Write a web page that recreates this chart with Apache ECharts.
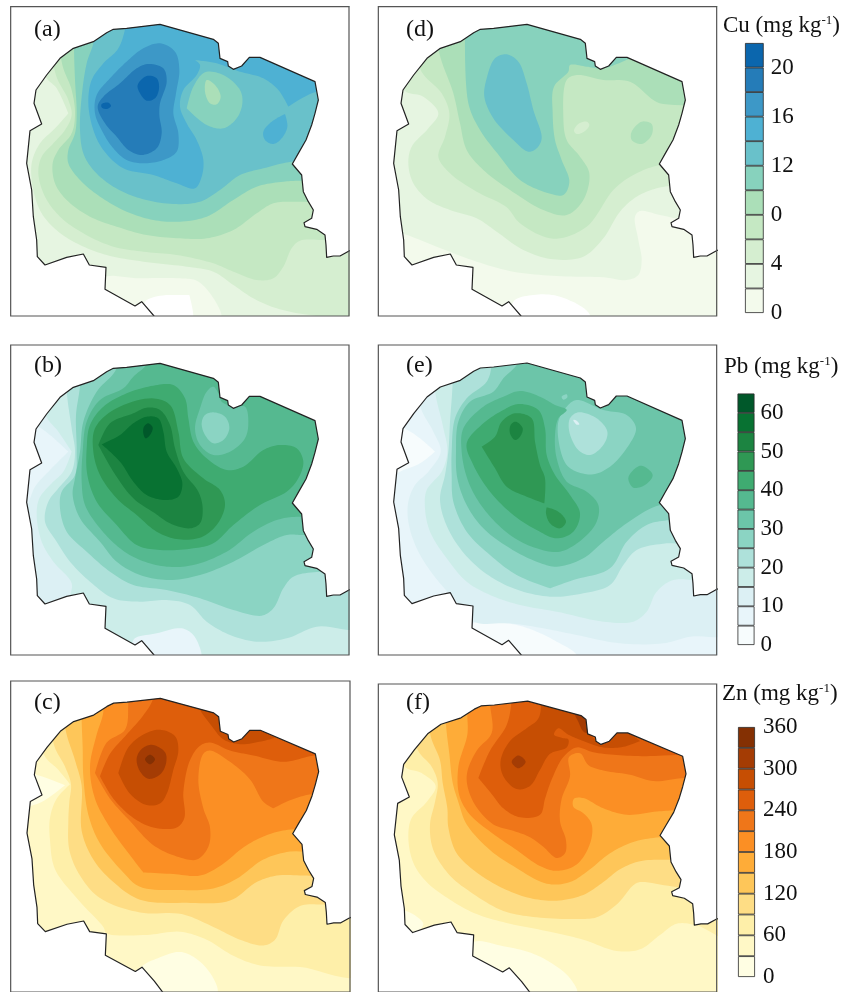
<!DOCTYPE html>
<html><head><meta charset="utf-8">
<script src="https://cdn.jsdelivr.net/npm/echarts@6/dist/echarts.min.js"></script>
<style>html,body{margin:0;padding:0;background:#fff}#c{width:857px;height:992px}</style>
</head><body><div id="c"></div>
<script>
// Colour classes (lowest to highest)
const cuColors=['#f3faec','#e6f5e1','#d5eed0','#c5e8c3','#abdfb8','#87d2bd','#69c1ca','#4eb1d3','#3d98c7','#257cb8','#0b66ad'];
const pbColors=['#f7fcfd','#e8f5fa','#dcf0f4','#ccede9','#aee1da','#8bd4c3','#6cc5a9','#55b990','#3fab71','#2f9854','#1c8441','#087232','#00582a'];
const znColors=['#fffee3','#fff8c6','#feefa9','#fedd85','#fec659','#feac38','#fb8f24','#ef7619','#de5e0b','#c64e03','#a43c04','#843003'];
// Colour bars
const cuTicks=[0,4,8,12,16,20], cuTickLabels=['0','4','0','12','16','20'], cuStep=2;
const pbTicks=[0,10,20,30,40,50,60], pbTickLabels=['0','10','20','30','40','50','60'], pbStep=5;
const znTicks=[0,60,120,180,240,300,360], znTickLabels=['0','60','120','180','240','300','360'], znStep=30;
// Study-area boundary in map units
const outline=[[1060,748],[1047,753],[1020,768],[1000,768],[980,772],[978,735],[975,705],[950,688],[915,680],[912,668],[935,655],[940,630],[925,605],[910,575],[905,525],[877,492],[895,460],[918,420],[935,375],[945,340],[955,300],[945,245],[780,172],[748,172],[725,198],[700,208],[685,198],[683,185],[660,175],[655,130],[640,118],[480,73],[380,85],[340,88],[320,98],[280,125],[220,145],[180,175],[140,225],[108,270],[102,310],[125,372],[90,392],[80,490],[95,570],[100,650],[110,720],[112,770],[135,795],[200,772],[250,762],[268,795],[318,802],[315,868],[405,918],[425,905],[462,948],[500,1000]];
// Filled contours: [class, ring]; painted in order. A repeated point is a sharp corner.
const panelA=[
[1,[[-100,-100],[-100,-100],[1200,-100],[1200,-100],[1200,1200],[1200,1200],[-100,1200],[-100,1200]]],
[0,[[300,838],[420,835],[540,835],[590,842],[630,880],[665,950],[650,1000],[300,1000]]],
[-1,[[435,905],[500,885],[500,885],[568,885],[568,885],[580,950],[570,1000],[450,1000]]],
[2,[[135,225],[170,265],[205,340],[205,340],[165,385],[120,430],[95,490],[100,570],[125,640],[175,695],[240,735],[320,765],[430,785],[560,800],[640,815],[700,855],[760,895],[830,925],[930,945],[1100,950],[1100,-20],[135,-20]]],
[3,[[165,215],[205,300],[215,345],[195,390],[160,430],[125,470],[115,520],[135,590],[180,650],[250,700],[340,740],[430,755],[530,765],[640,790],[700,815],[770,840],[820,835],[850,800],[875,745],[900,722],[975,720],[1100,720],[1100,-20],[165,-20]]],
[4,[[185,185],[215,270],[225,340],[215,400],[175,450],[158,490],[165,550],[200,600],[270,650],[350,680],[440,705],[540,715],[620,715],[700,690],[770,640],[820,610],[900,605],[1100,600],[1100,-20],[185,-20]]],
[5,[[222,145],[225,240],[230,340],[225,400],[205,450],[205,490],[240,540],[300,590],[380,635],[460,660],[540,665],[620,650],[700,600],[770,560],[850,545],[905,542],[1100,540],[1100,-20],[222,-20]]],
[6,[[282,120],[260,190],[245,290],[240,390],[250,460],[280,510],[340,560],[420,595],[520,612],[600,605],[660,570],[720,525],[790,505],[875,485],[1100,470],[1100,-20],[282,-20]]],
[7,[[380,60],[355,145],[310,190],[275,240],[265,310],[280,390],[310,450],[370,505],[460,525],[530,550],[585,565],[605,530],[610,480],[590,420],[560,370],[540,320],[550,270],[590,225],[600,195],[585,180],[585,180],[650,190],[720,215],[790,235],[835,270],[865,320],[865,320],[950,275],[1100,270],[1100,-20],[380,-20]]],
[7,[[855,342],[855,342],[862,380],[845,415],[820,432],[795,420],[790,395],[815,365]]],
[5,[[615,217],[670,225],[720,270],[727,310],[710,355],[670,385],[620,375],[560,325],[560,325],[580,260]]],
[4,[[620,240],[645,255],[662,290],[650,313],[630,310],[615,275]]],
[8,[[480,130],[525,155],[538,210],[528,280],[520,340],[535,400],[530,455],[490,480],[430,490],[380,480],[340,445],[310,400],[285,340],[290,285],[330,235],[385,180],[430,145]]],
[9,[[445,192],[490,205],[500,245],[480,310],[478,345],[485,400],[470,445],[425,465],[385,450],[350,410],[315,370],[293,320],[310,290],[360,250],[410,205]]],
[10,[[440,228],[470,235],[477,265],[465,295],[440,302],[420,280],[413,255]]],
[10,[[305,312],[325,308],[333,318],[320,327],[305,322]]]
];
const panelD=[
[0,[[-100,-100],[-100,-100],[1200,-100],[1200,-100],[1200,1200],[1200,1200],[-100,1200],[-100,1200]]],
[-1,[[430,905],[490,885],[570,890],[660,945],[650,1000],[430,1000]]],
[1,[[95,700],[200,740],[320,785],[430,815],[560,828],[700,832],[770,840],[805,825],[815,780],[805,720],[795,650],[810,633],[870,645],[950,660],[1100,660],[1100,-20],[40,-20],[40,690]]],
[2,[[100,268],[160,290],[205,340],[175,385],[125,440],[115,490],[130,550],[175,600],[240,630],[320,655],[380,695],[460,750],[550,778],[640,770],[700,715],[750,635],[800,590],[860,565],[930,555],[1100,550],[1100,-20],[100,-20]]],
[3,[[150,205],[215,280],[238,340],[225,410],[205,470],[240,520],[320,575],[410,622],[450,670],[550,716],[650,680],[730,570],[790,525],[870,495],[1100,480],[1100,-20],[150,-20]]],
[2,[[612,392],[625,372],[650,365],[658,375],[645,393],[620,402]]],
[4,[[205,145],[250,280],[270,370],[290,450],[340,510],[420,570],[520,630],[590,645],[640,600],[658,520],[630,470],[590,420],[580,350],[590,240],[620,225],[700,240],[780,245],[850,300],[880,312],[1100,280],[1100,-20],[205,-20]]],
[4,[[815,365],[845,372],[845,405],[815,432],[785,420],[785,395]]],
[5,[[285,100],[285,100],[295,310],[330,390],[390,470],[450,540],[530,578],[580,585],[598,545],[575,480],[555,420],[548,340],[552,260],[595,215],[600,195],[650,200],[700,205],[780,175],[780,175],[780,100],[500,40]]],
[6,[[410,163],[445,185],[470,250],[490,330],[515,415],[500,445],[475,455],[430,420],[370,355],[343,290],[350,235],[375,175]]]
];
const panelB=[
[2,[[-100,-100],[-100,-100],[1200,-100],[1200,-100],[1200,1200],[1200,1200],[-100,1200],[-100,1200]]],
[3,[[135,235],[175,290],[215,350],[215,350],[190,410],[150,450],[118,490],[110,540],[125,620],[160,680],[215,745],[210,800],[260,850],[400,970],[1100,1000],[1100,-20],[135,-20]]],
[1,[[105,270],[150,300],[205,350],[205,350],[150,405],[105,455],[80,510],[60,400],[80,270]]],
[1,[[400,915],[470,895],[545,880],[580,900],[605,960],[600,1000],[420,1000]]],
[4,[[200,165],[215,280],[225,350],[215,410],[175,460],[145,500],[135,560],[170,620],[210,680],[270,740],[340,790],[420,800],[500,795],[570,810],[620,860],[690,900],[770,920],[860,910],[950,875],[1100,870],[1100,-20],[200,-20]]],
[5,[[240,150],[228,240],[230,350],[225,420],[185,470],[180,520],[200,590],[260,650],[330,710],[400,750],[500,765],[600,790],[700,825],[785,842],[820,820],[850,760],[880,725],[960,710],[1100,710],[1100,-20],[240,-20]]],
[6,[[350,100],[290,170],[250,260],[240,350],[225,430],[218,480],[240,550],[300,620],[350,680],[420,720],[510,735],[600,720],[700,680],[790,630],[860,600],[910,600],[1100,600],[1100,-20],[360,-20]]],
[7,[[445,80],[400,125],[370,160],[300,195],[260,260],[248,350],[245,440],[255,510],[300,580],[360,640],[420,675],[500,695],[580,690],[680,650],[760,590],[830,555],[890,545],[1100,540],[1100,-20],[445,-20]]],
[6,[[640,155],[655,175],[665,200],[700,215],[735,215],[745,260],[735,310],[690,350],[640,360],[600,330],[585,280],[600,220],[620,170]]],
[5,[[640,232],[675,245],[688,280],[670,315],[640,325],[615,300],[605,265],[615,240]]],
[8,[[460,152],[520,150],[555,190],[565,250],[580,320],[620,370],[680,405],[730,395],[790,345],[840,330],[890,340],[910,380],[895,430],[860,470],[780,510],[700,570],[640,625],[580,640],[480,645],[410,630],[350,570],[290,500],[262,420],[260,340],[270,270],[310,215],[380,175]]],
[9,[[455,190],[510,210],[535,290],[550,370],[610,430],[660,465],[675,510],[650,570],[600,608],[530,612],[470,590],[410,540],[350,490],[300,420],[280,350],[285,280],[340,225]]],
[10,[[440,218],[480,225],[510,270],[525,340],[550,410],[595,470],[608,520],[600,565],[570,580],[510,565],[465,535],[400,490],[340,410],[295,330],[295,330],[330,265],[400,235]]],
[11,[[440,245],[475,250],[490,290],[500,350],[530,400],[547,445],[535,485],[495,495],[440,480],[400,440],[360,380],[305,328],[305,328],[360,300],[400,265]]],
[12,[[445,265],[458,278],[450,300],[437,310],[430,295],[432,275]]]
];
const panelE=[
[1,[[-100,-100],[-100,-100],[1200,-100],[1200,-100],[1200,1200],[1200,1200],[-100,1200],[-100,1200]]],
[0,[[100,280],[150,310],[195,350],[195,350],[150,385],[100,405],[60,420],[60,280]]],
[0,[[310,865],[380,862],[440,870],[500,890],[560,920],[620,960],[620,1000],[300,1000]]],
[2,[[150,210],[190,290],[212,350],[175,410],[135,450],[115,500],[115,560],[140,640],[190,720],[250,790],[310,860],[420,865],[520,880],[620,900],[750,925],[880,925],[960,905],[1100,885],[1100,-20],[150,-20]]],
[3,[[195,165],[218,270],[232,350],[215,410],[170,465],[165,520],[180,590],[230,670],[290,740],[360,780],[450,810],[560,830],[700,860],[790,860],[830,830],[860,770],[910,735],[1100,725],[1100,-20],[195,-20]]],
[4,[[248,140],[240,260],[235,350],[225,420],[210,490],[225,560],[270,640],[340,710],[430,760],[540,785],[640,775],[720,750],[760,690],[800,645],[890,625],[1100,620],[1100,-20],[248,-20]]],
[5,[[365,90],[350,140],[290,190],[255,250],[245,350],[245,420],[250,500],[290,590],[360,660],[440,720],[540,760],[540,760],[610,735],[720,700],[770,620],[830,570],[900,555],[1100,550],[1100,-20],[365,-20]]],
[6,[[445,80],[400,130],[370,170],[300,200],[265,260],[258,350],[262,430],[290,510],[340,580],[420,640],[500,680],[560,695],[640,670],[700,620],[770,565],[870,510],[1100,500],[1100,-20],[445,-20]]],
[5,[[620,195],[700,225],[770,240],[798,280],[770,340],[720,395],[670,418],[620,410],[590,390],[570,340],[565,260],[590,215]]],
[4,[[625,232],[680,250],[712,290],[700,330],[660,360],[625,345],[598,290],[600,250]]],
[2,[[610,255],[618,256],[628,268],[620,269]]],
[7,[[815,392],[848,420],[825,450],[790,458],[775,430],[790,405]]],
[7,[[450,168],[510,185],[555,210],[590,225],[565,250],[555,300],[560,370],[590,440],[650,470],[685,510],[680,560],[640,610],[570,650],[500,640],[420,600],[340,520],[295,440],[275,350],[280,280],[340,215],[400,185]]],
[5,[[575,185],[590,178],[592,187],[580,194]]],
[8,[[445,207],[505,225],[525,280],[530,360],[555,420],[600,480],[630,535],[610,590],[560,610],[500,585],[430,540],[360,470],[310,390],[290,325],[340,265],[400,225]]],
[9,[[435,235],[485,250],[495,320],[510,390],[525,430],[523,505],[523,505],[470,485],[410,455],[375,400],[335,335],[335,335],[375,305],[395,260]]],
[9,[[530,517],[530,517],[565,530],[588,560],[570,580],[540,565],[528,535]]],
[10,[[437,260],[458,280],[450,305],[435,315],[420,295],[422,270]]]
];
const panelC=[
[1,[[-100,-100],[-100,-100],[1200,-100],[1200,-100],[1200,1200],[1200,1200],[-100,1200],[-100,1200]]],
[0,[[105,325],[195,358],[195,358],[115,415],[60,420],[60,325]]],
[0,[[420,930],[480,895],[540,878],[590,900],[640,960],[650,1010],[420,1010]]],
[2,[[130,258],[175,310],[210,355],[210,355],[170,400],[150,460],[150,530],[165,620],[230,710],[310,800],[320,820],[440,825],[540,815],[620,840],[700,890],[780,920],[900,925],[1100,945],[1100,-20],[130,-20]]],
[3,[[160,225],[195,300],[213,355],[208,410],[205,470],[208,560],[240,640],[300,710],[420,755],[545,760],[640,800],[720,840],[790,858],[825,840],[850,780],[900,735],[975,730],[1100,730],[1100,-20],[160,-20]]],
[4,[[195,175],[225,280],[245,360],[245,500],[280,590],[340,660],[420,715],[560,725],[690,718],[770,660],[830,640],[920,640],[1100,640],[1100,-20],[195,-20]]],
[5,[[245,155],[248,240],[250,330],[265,450],[300,540],[370,630],[420,675],[540,685],[640,680],[710,650],[790,590],[870,565],[1100,560],[1100,-20],[245,-20]]],
[6,[[310,130],[290,200],[270,300],[285,400],[330,490],[400,590],[430,630],[430,630],[520,635],[600,640],[660,610],[740,545],[810,510],[880,495],[1100,490],[1100,-20],[310,-20]]],
[7,[[385,100],[375,185],[320,225],[285,320],[285,320],[330,400],[390,470],[460,545],[530,580],[590,590],[625,550],[630,490],[610,430],[595,340],[610,260],[630,250],[690,285],[750,340],[790,410],[820,430],[820,430],[870,405],[940,385],[1100,380],[1100,-20],[385,-20]]],
[8,[[460,85],[430,140],[380,200],[330,260],[300,330],[300,330],[340,400],[400,460],[460,490],[530,490],[553,460],[550,380],[570,280],[600,235],[630,225],[690,250],[760,265],[850,285],[945,265],[1100,260],[1100,-20],[460,-20]]],
[9,[[480,185],[525,205],[535,250],[520,310],[500,385],[480,415],[440,420],[390,385],[355,320],[355,320],[385,240],[430,200]]],
[9,[[600,115],[640,180],[670,215],[720,230],[790,220],[825,210],[825,210],[780,180],[650,120]]],
[10,[[455,232],[495,255],[498,290],[480,325],[445,338],[420,315],[410,275],[425,245]]],
[11,[[450,263],[465,277],[450,293],[435,277]]]
];
const panelF=[
[1,[[-100,-100],[-100,-100],[1200,-100],[1200,-100],[1200,1200],[1200,1200],[-100,1200],[-100,1200]]],
[0,[[305,850],[400,860],[480,880],[540,910],[600,960],[620,1010],[300,1010]]],
[0,[[100,750],[160,790],[125,825],[90,800]]],
[2,[[100,295],[155,320],[197,360],[170,410],[125,460],[115,520],[130,600],[170,660],[240,715],[320,760],[420,790],[540,815],[640,840],[740,875],[810,870],[870,825],[920,790],[980,795],[1100,840],[1100,-20],[100,-20]]],
[3,[[140,240],[185,300],[203,350],[195,410],[180,480],[190,560],[240,640],[300,690],[400,750],[500,770],[620,775],[680,770],[740,730],[790,670],[810,660],[920,675],[1100,680],[1100,-20],[140,-20]]],
[4,[[180,195],[210,280],[218,350],[232,430],[235,490],[260,570],[320,630],[400,680],[480,710],[560,718],[640,700],[700,660],[750,620],[810,595],[900,590],[1100,590],[1100,-20],[180,-20]]],
[5,[[228,165],[238,260],[248,350],[265,410],[290,480],[360,560],[430,610],[530,665],[600,660],[660,620],[720,570],[790,535],[868,520],[1100,510],[1100,-20],[228,-20]]],
[6,[[292,135],[292,200],[265,300],[268,390],[300,450],[370,510],[440,560],[510,610],[560,625],[620,605],[660,540],[665,480],[640,445],[610,425],[612,400],[640,398],[700,430],[770,450],[860,440],[930,435],[1100,430],[1100,-20],[292,-20]]],
[7,[[360,100],[365,195],[320,250],[290,330],[310,410],[370,480],[430,500],[480,520],[520,550],[560,585],[585,570],[588,530],[570,470],[575,400],[600,330],[597,270],[630,258],[655,295],[700,312],[780,325],[850,345],[945,335],[1100,330],[1100,-20],[360,-20]]],
[8,[[425,90],[410,170],[360,250],[325,335],[325,335],[365,385],[400,430],[450,458],[510,450],[525,400],[545,340],[580,270],[620,240],[670,255],[760,265],[880,265],[1100,230],[1100,-20],[425,-20]]],
[9,[[515,90],[505,150],[470,180],[420,220],[392,280],[400,330],[440,370],[480,360],[510,310],[540,260],[590,240],[595,215],[575,210],[552,200],[565,180],[595,200],[640,220],[700,240],[760,238],[810,220],[810,220],[770,193],[740,195],[720,215],[690,230],[670,210],[655,195],[650,135],[600,50],[515,50]]],
[10,[[445,265],[467,285],[445,305],[425,285]]],
[10,[[615,135],[640,145],[655,195],[640,190],[625,160]]]
];
const panels=[
 {label:'(a)',rings:panelA,colors:cuColors,crop:[0,0],x:[32,1047],y:[20,948],shift:[0,0,0],lab:[34,18]},
 {label:'(d)',rings:panelD,colors:cuColors,crop:[370,0],x:[25,1040],y:[20,948],shift:[-9,0,0],lab:[406,18]},
 {label:'(b)',rings:panelB,colors:pbColors,crop:[0,335],x:[32,1047],y:[30,960],shift:[0,12,0],lab:[34,354]},
 {label:'(e)',rings:panelE,colors:pbColors,crop:[370,335],x:[25,1040],y:[30,960],shift:[-9,11,0],lab:[406,354]},
 {label:'(c)',rings:panelC,colors:znColors,crop:[0,670],x:[32,1050],y:[33,1003],shift:[1,14,.008],lab:[34,691]},
 {label:'(f)',rings:panelF,colors:znColors,crop:[370,670],x:[25,1040],y:[42,1003],shift:[-7,22.5,0],lab:[406,691]}
];
const bars=[
 {name:'Cu',colors:cuColors,step:cuStep,ticks:cuTicks,labels:cuTickLabels,box:[745,43,18.7,270],title:[723,14],margin:7},
 {name:'Pb',colors:pbColors,step:pbStep,ticks:pbTicks,labels:pbTickLabels,box:[737.5,393.5,17,251.5],title:[724,355],margin:6},
 {name:'Zn',colors:znColors,step:znStep,ticks:znTicks,labels:znTickLabels,box:[738,727,17,250],title:[722,682],margin:8}
];
const FONT='"Liberation Serif","Times New Roman",serif';
// Centripetal Catmull-Rom through a closed ring of contour vertices
function curve(r){
  const n=r.length,out=[],hyp=(a,b)=>Math.max(Math.sqrt(Math.hypot(a[0]-b[0],a[1]-b[1])),1e-3);
  for(let i=0;i<n;i++){
    const p0=r[(i-1+n)%n],p1=r[i],p2=r[(i+1)%n],p3=r[(i+2)%n];
    if(p1[0]===p2[0]&&p1[1]===p2[1]){out.push(p1);continue;}
    const d0=hyp(p0,p1),d1=hyp(p1,p2),d2=hyp(p2,p3);
    for(let s=0;s<10;s++){
      const t=s/10,c=[0,1].map(k=>{
        const m1=((p1[k]-p0[k])/d0-(p2[k]-p0[k])/(d0+d1)+(p2[k]-p1[k])/d1)*d1;
        const m2=((p2[k]-p1[k])/d1-(p3[k]-p1[k])/(d1+d2)+(p3[k]-p2[k])/d2)*d1;
        const t2=t*t,t3=t2*t;
        return (2*t3-3*t2+1)*p1[k]+(t3-2*t2+t)*m1+(-2*t3+3*t2)*p2[k]+(t3-t2)*m2;
      });
      out.push(c);
    }
  }
  return out;
}
const grid=[],xAxis=[],yAxis=[],series=[],title=[];
panels.forEach((p,i)=>{
  grid.push({show:true,z:10,backgroundColor:'transparent',borderColor:'#555',borderWidth:1.2,
    left:p.crop[0]+p.x[0]/3,top:p.crop[1]+p.y[0]/3,width:(p.x[1]-p.x[0])/3,height:(p.y[1]-p.y[0])/3});
  xAxis.push({type:'value',gridIndex:i,min:p.x[0],max:p.x[1],show:false});
  yAxis.push({type:'value',gridIndex:i,min:p.y[0],max:p.y[1],inverse:true,show:false});
  const [dx,dy,sy]=p.shift;
  const line=outline.map(q=>[q[0]+dx,q[1]+dy+(q[1]-73)*sy]);
  const last=line[line.length-1], first=line[0];
  const mask=line.concat([[last[0],3000],[-1000,3000],[-1000,-1000],[3000,-1000],[3000,first[1]]]);
  const items=p.rings.map(r=>({kind:'fill',cls:r[0],pts:curve(r[1])}));
  items.push({kind:'mask',pts:mask});
  items.push({kind:'line',pts:line});
  series.push({type:'custom',xAxisIndex:i,yAxisIndex:i,clip:true,silent:true,animation:false,
    data:items.map((_,k)=>[k]),encode:{x:[],y:[]},
    renderItem:(params,api)=>{
      const it=items[params.dataIndex];
      const pts=it.pts.map(q=>api.coord(q));
      if(it.kind==='fill')return{type:'polygon',shape:{points:pts},style:{fill:it.cls<0?'#fff':p.colors[it.cls],stroke:null}};
      if(it.kind==='mask')return{type:'polygon',shape:{points:pts},style:{fill:'#fff',stroke:null}};
      return{type:'polyline',shape:{points:pts},style:{fill:null,stroke:'#222',lineWidth:1.2,lineJoin:'round'}};
    }});
  title.push({text:p.label,left:p.lab[0],top:p.lab[1],textStyle:{fontFamily:FONT,fontSize:24,fontWeight:'normal',color:'#111'},padding:0});
});
bars.forEach((b,j)=>{
  const i=panels.length+j;
  grid.push({left:b.box[0],top:b.box[1],width:b.box[2],height:b.box[3]});
  xAxis.push({type:'category',gridIndex:i,data:[b.name],show:false});
  yAxis.push({type:'value',gridIndex:i,min:0,max:b.colors.length*b.step,interval:b.ticks[1],position:'right',
    axisLine:{show:false},axisTick:{show:false},splitLine:{show:false},
    axisLabel:{margin:b.margin,fontFamily:FONT,fontSize:23,color:'#111',showMaxLabel:true,showMinLabel:true,
      formatter:v=>{const k=b.ticks.indexOf(v);return k<0?'':b.labels[k];}}});
  b.colors.forEach(c=>series.push({type:'bar',xAxisIndex:i,yAxisIndex:i,stack:b.name,barWidth:'100%',silent:true,animation:false,
    data:[b.step],itemStyle:{color:c,borderColor:'#2a2a2a',borderWidth:.8}}));
  title.push({text:'{t|'+b.name+' (mg kg}{s|-1}{t|)}',left:b.title[0],top:b.title[1],padding:0,
    textStyle:{rich:{t:{fontFamily:FONT,fontSize:23,fontWeight:'normal',color:'#111'},s:{fontFamily:FONT,fontSize:13,fontWeight:'normal',color:'#111',verticalAlign:'top'}}}});
});
const chart=echarts.init(document.getElementById('c'),null,{renderer:'canvas'});
chart.setOption({animation:false,backgroundColor:'#fff',tooltip:{show:false},legend:{show:false},title,grid,xAxis,yAxis,series});
</script></body></html>
